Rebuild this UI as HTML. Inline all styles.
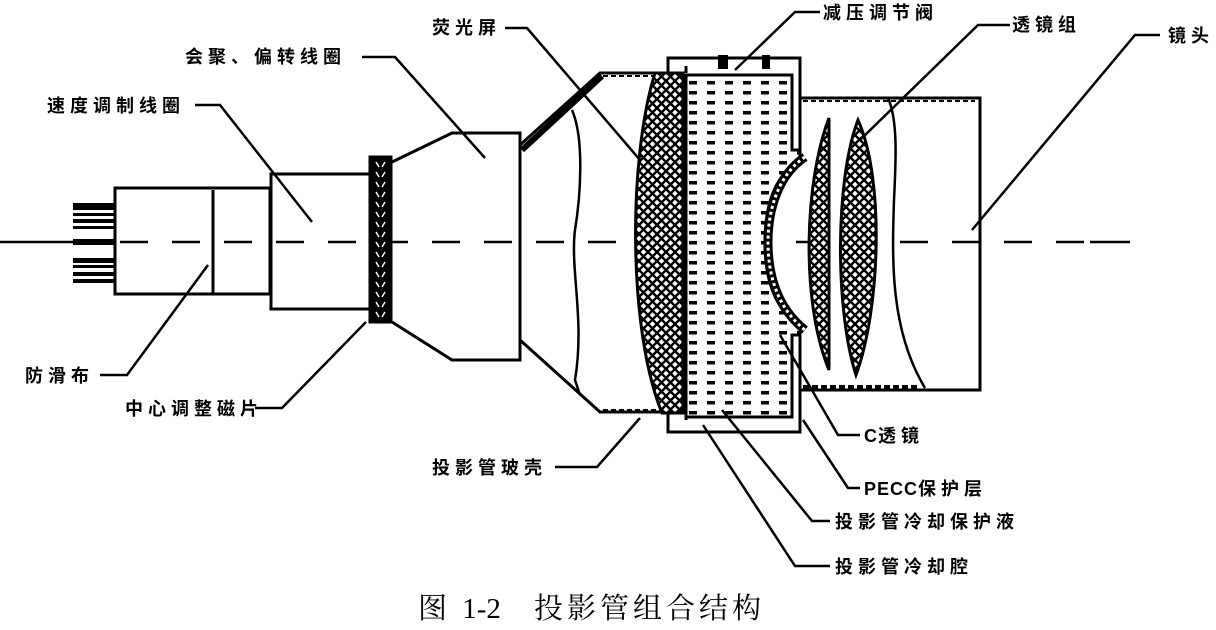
<!DOCTYPE html>
<html><head><meta charset="utf-8"><style>
html,body{margin:0;padding:0;background:#fff}
svg{display:block}
text{font-family:"Liberation Sans","Noto Sans CJK SC",sans-serif;font-weight:bold;font-size:18px;letter-spacing:5px;fill:#000}
.l{letter-spacing:1px}
.cap{font-family:"Liberation Serif","Noto Serif CJK SC",serif;font-weight:normal;font-size:29px;letter-spacing:4px}
</style></head><body>
<svg width="1216" height="630" viewBox="0 0 1216 630" xmlns="http://www.w3.org/2000/svg">
<defs>
<pattern id="xh" width="9" height="9" patternUnits="userSpaceOnUse">
<rect width="9" height="9" fill="#fff"/>
<path d="M0,0L9,9M9,0L0,9" stroke="#000" stroke-width="2.4"/>
</pattern>
<pattern id="dh" width="18" height="10" patternUnits="userSpaceOnUse" x="686" y="78">
<rect width="18" height="10" fill="#fff"/>
<rect x="3" y="3" width="8" height="3.5" fill="#000"/>
</pattern>
<pattern id="mg" width="21" height="10" patternUnits="userSpaceOnUse" x="370">
<rect width="21" height="10" fill="#000"/>
<path d="M6,2L9,7M15,2L12,7" stroke="#fff" stroke-width="1.5"/>
</pattern>
</defs>
<g fill="none" stroke="#000" stroke-width="3">
<path d="M0,242H73M1090,242H1130" stroke-width="2.5"/>
<path d="M115,242H1090" stroke-width="2.5" stroke-dasharray="28,24" stroke-dashoffset="-5"/>
<g fill="#000" stroke="none">
<rect x="73" y="203" width="42" height="7"/><rect x="73" y="213" width="42" height="3"/>
<rect x="73" y="219" width="42" height="4"/><rect x="73" y="226" width="42" height="3"/>
<rect x="73" y="239" width="42" height="6"/>
<rect x="73" y="258" width="42" height="5"/><rect x="73" y="265" width="42" height="3"/>
<rect x="73" y="272" width="42" height="4"/><rect x="73" y="279" width="42" height="4"/>
</g>
<rect x="115" y="188" width="155" height="106"/>
<path d="M213,190V294"/>
<rect x="271" y="174" width="99" height="135"/>
<rect x="370" y="157" width="21" height="165" fill="url(#mg)"/>
<path d="M392,162L452,133H520V360H452L392,322"/>
<path d="M520,145L600,73H670M520,340L600,412H668" />
<path d="M522,150L602,76" stroke-width="6"/>
<path d="M603,76H660M603,410H660" stroke-width="2" stroke-dasharray="5,3"/>
<path d="M572,110C585,140 580,200 575,230C570,270 585,320 575,380L580,395" stroke-width="2.5"/>
<path d="M655,73C628,160 628,330 662,413L683,413V73Z" fill="url(#xh)"/>
<path d="M686,75H792V150H800V160C775,175 765,205 765,242C765,280 775,310 800,325V335H792V417H686Z" fill="url(#dh)"/>
<path d="M668,73V58H800V150M668,413V432H800V333"/>
<path d="M686,413V420M686,73V66"/>
<rect x="718" y="55" width="10" height="14" fill="#000" stroke="none"/>
<rect x="762" y="55" width="8" height="14" fill="#000" stroke="none"/>
<path d="M805,157C778,175 768,210 768,242C768,280 780,310 805,330" stroke-width="9"/>
<path d="M805,157C778,175 768,210 768,242C768,280 780,310 805,330" stroke="#fff" stroke-width="3" stroke-dasharray="3,3"/>
<path d="M800,98H980V390H800"/>
<path d="M803,101H975" stroke-width="2" stroke-dasharray="5,3"/>
<path d="M803,387H920" stroke-width="4" stroke-dasharray="6,3"/>
<path d="M888,98C898,120 896,160 894,200C892,260 890,330 925,388" stroke-width="2.5"/>
<path d="M829,118C805,180 800,300 829,370Z" fill="url(#xh)"/>
<path d="M858,120C835,180 835,310 856,375C880,310 885,180 858,120Z" fill="url(#xh)"/>
<g stroke-width="2.5">
<path d="M505,28H527L640,160"/>
<path d="M820,12H795L735,70"/>
<path d="M1010,25H978L860,140"/>
<path d="M1160,35H1135L972,230"/>
<path d="M362,57H395L485,158"/>
<path d="M195,105H220L312,222"/>
<path d="M100,375H127L208,265"/>
<path d="M255,408H282L366,322"/>
<path d="M555,467H597L640,418"/>
<path d="M860,435H838L780,335"/>
<path d="M860,488H848L803,420"/>
<path d="M830,521H812L722,410"/>
<path d="M830,566H795L703,425"/>
</g>
</g>
<g>
<text x="432" y="34">荧光屏</text>
<text x="823" y="19">减压调节阀</text>
<text x="1012" y="31">透镜组</text>
<text x="1168" y="42">镜头</text>
<text x="185" y="63">会聚、偏转线圈</text>
<text x="47" y="112">速度调制线圈</text>
<text x="25" y="382">防滑布</text>
<text x="125" y="415">中心调整磁片</text>
<text x="432" y="474">投影管玻壳</text>
<text x="864" y="442"><tspan class="l">C</tspan>透镜</text>
<text x="864" y="495"><tspan class="l">PECC</tspan>保护层</text>
<text x="835" y="528">投影管冷却保护液</text>
<text x="835" y="573">投影管冷却腔</text>
<text class="cap" x="418" y="618">图 <tspan style="letter-spacing:0">1-2</tspan>　投影管组合结构</text>
</g>
</svg>
</body></html>
